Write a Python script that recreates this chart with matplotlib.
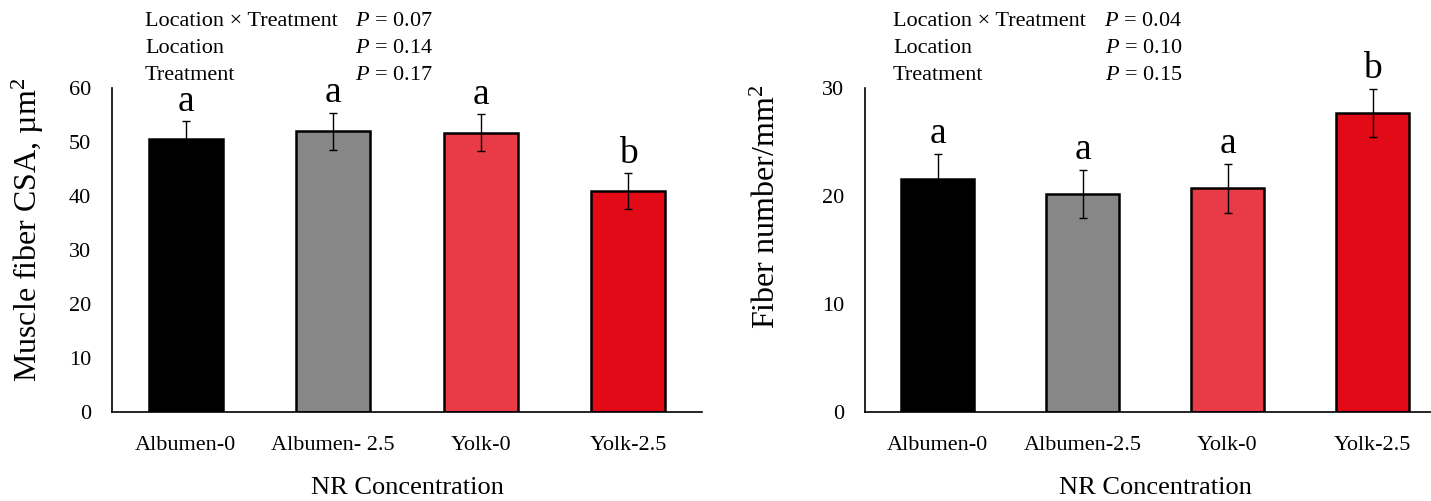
import numpy as np
import matplotlib
matplotlib.use("Agg")
import matplotlib.pyplot as plt

plt.rcParams['font.family'] = ['Liberation Serif', 'DejaVu Serif']
plt.rcParams['mathtext.fontset'] = 'custom'
plt.rcParams['mathtext.rm'] = 'Liberation Serif'
plt.rcParams['mathtext.it'] = 'Liberation Serif:italic'

colors = ['#000000', '#878787', '#E83A47', '#E20A17']

# left panel: muscle fiber CSA
csa_labels = ['Albumen-0', 'Albumen- 2.5', 'Yolk-0', 'Yolk-2.5']
csa_mean = [50.6, 52.0, 51.7, 40.9]
csa_se = [3.2, 3.4, 3.4, 3.3]
csa_letters = ['a', 'a', 'a', 'b']
csa_stats = [('Location × Treatment', '0.07'), ('Location', '0.14'), ('Treatment', '0.17')]

# right panel: fiber number
num_labels = ['Albumen-0', 'Albumen-2.5', 'Yolk-0', 'Yolk-2.5']
num_mean = [21.6, 20.2, 20.7, 27.7]
num_se = [2.3, 2.2, 2.3, 2.2]
num_letters = ['a', 'a', 'a', 'b']
num_stats = [('Location × Treatment', '0.04'), ('Location', '0.10'), ('Treatment', '0.15')]

W, H = 1431, 501
fig = plt.figure(figsize=(W / 100, H / 100), dpi=100)


def panel(rect, labels, mean, se, letters, ymax, ystep, ylabel, stats, tx, px, ylab_xy):
    ax = fig.add_axes(rect)
    x = np.arange(len(labels))
    ax.bar(x, mean, width=0.5, color=colors, edgecolor='black', linewidth=1.8, zorder=2)
    ax.errorbar(x, mean, yerr=se, fmt='none', ecolor='black', elinewidth=1.0,
                capsize=3, capthick=1.0, zorder=3)
    for xi, m, s, l in zip(x, mean, se, letters):
        ax.annotate(l, (xi, m + s), xytext=(0, 2), textcoords='offset points',
                    ha='center', va='bottom', fontsize=27)
    ax.set_xlim(-0.5, len(labels) - 0.5)
    ax.set_ylim(0, ymax)
    ax.set_yticks(np.arange(0, ymax + 1, ystep))
    ax.set_xticks(x)
    ax.set_xticklabels(labels)
    ax.tick_params(axis='both', length=0, labelsize=16)
    ax.tick_params(axis='y', pad=15)
    ax.tick_params(axis='x', pad=17)
    for sp in ['top', 'right']:
        ax.spines[sp].set_visible(False)
    ax.spines['left'].set_linewidth(1.2)
    ax.spines['bottom'].set_linewidth(1.2)
    ax.set_xlabel('NR Concentration', fontsize=19, labelpad=16)
    fig.text(ylab_xy[0] / W, 1 - ylab_xy[1] / H, ylabel, fontsize=23, rotation=90,
             ha='center', va='center')
    for i, (name, p) in enumerate(stats):
        yy = 1 - (21 + 27.5 * i) / H
        fig.text(tx / W, yy, name, fontsize=16, ha='left', va='center')
        fig.text(px / W, yy, r'$P$ = ' + p, fontsize=16, ha='right', va='center')
    return ax


bottom = (H - 412) / H
height = 324 / H
panel([112 / W, bottom, 590 / W, height], csa_labels, csa_mean, csa_se, csa_letters,
      60, 10, r'Muscle fiber CSA, µm$^2$', csa_stats, 145, 433, (28, 230))
panel([865 / W, bottom, 580 / W, height], num_labels, num_mean, num_se, num_letters,
      30, 10, r'Fiber number/mm$^2$', num_stats, 893, 1182, (767, 207))

fig.savefig('out.png', dpi=100)
